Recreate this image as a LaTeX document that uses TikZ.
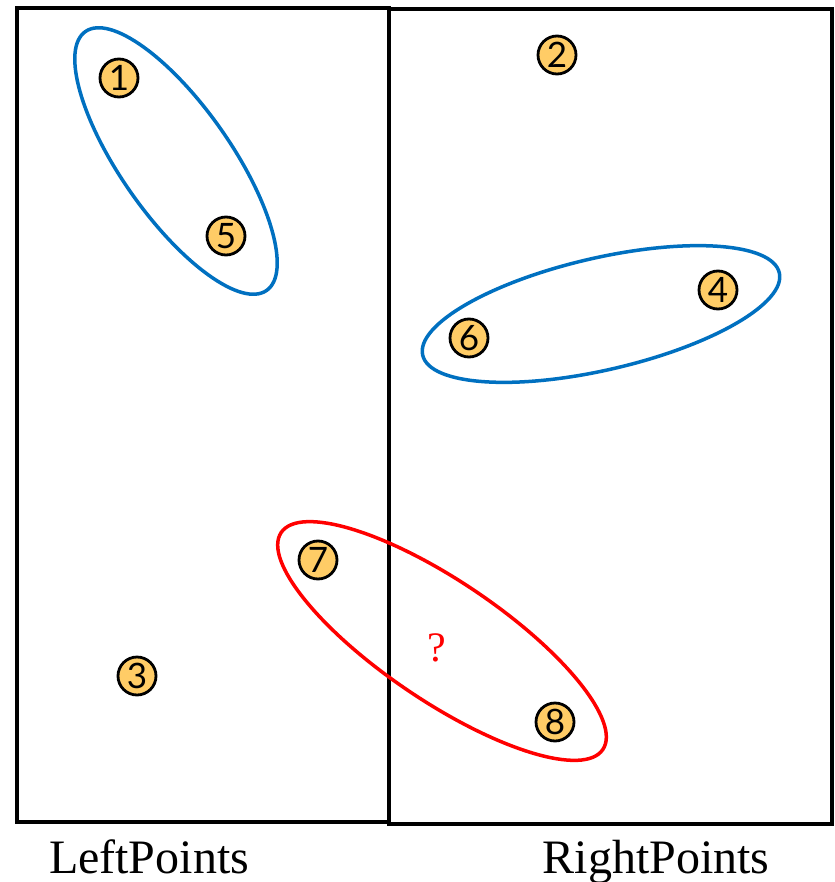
\documentclass[tikz,border=0pt]{standalone}
\usepackage{fontspec}
\setmainfont{Liberation Serif}
\newfontfamily\numfont{Lato}
\definecolor{ptfill}{HTML}{FFCC66}
\definecolor{grpblue}{HTML}{0070C0}
\definecolor{grpred}{HTML}{FF0000}
\begin{document}
\begin{tikzpicture}[x=1pt,y=-1pt,
  pt/.style={circle,draw=black,line width=2.8pt,fill=ptfill,minimum size=38pt,inner sep=0pt,font=\numfont\fontsize{35}{35}\selectfont},
  box/.style={draw=black,line width=3.5pt},
  grp/.style={draw=grpblue,line width=3.5pt},
  lbl/.style={font=\fontsize{48}{48}\selectfont,anchor=base}]
\useasboundingbox (0,0) rectangle (834,882);
\draw[box] (17,8) rectangle (389,822);
\draw[box] (389,9) rectangle (832,824);
\draw[grp] (176,161) ellipse[x radius=158,y radius=55,rotate=-55];
\draw[grp] (601,314) ellipse[x radius=183,y radius=56,rotate=13];
\draw[draw=grpred,line width=3.5pt] (442,641) ellipse[x radius=194,y radius=60,rotate=-34];
\node[pt] (n1) at (119,78) {1};
\node[pt] (n2) at (557,55) {2};
\node[pt] (n3) at (137,676) {3};
\node[pt] (n4) at (718,290) {4};
\node[pt] (n5) at (226,236) {5};
\node[pt] (n6) at (469,338) {6};
\node[pt] (n7) at (318,560) {7};
\node[pt] (n8) at (555,722) {8};
\node[text=grpred,font=\fontsize{42}{42}\selectfont] (q) at (437,648) {?};
\node[lbl] (lp) at (149,873) {LeftPoints};
\node[lbl] (rp) at (656,873) {RightPoints};
\end{tikzpicture}
\end{document}
